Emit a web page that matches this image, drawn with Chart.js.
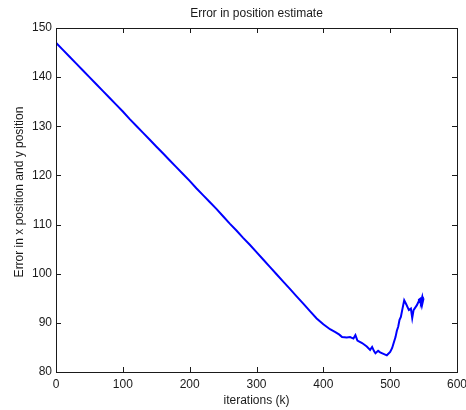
<!DOCTYPE html>
<html>
<head>
<meta charset="utf-8">
<script src="https://cdn.jsdelivr.net/npm/chart.js@4"></script>
<style>
  html, body { margin: 0; padding: 0; background: #fff; }
  #wrap { width: 466px; height: 410px; }
</style>
</head>
<body>
<div id="wrap"><canvas id="c" width="466" height="410"></canvas></div>
<script>
// Iteration index k
const iterations = [
  0, 10, 20, 30, 40, 50, 60, 70, 80, 90,
  100, 110, 120, 130, 140, 150, 160, 170, 180, 190,
  200, 210, 220, 230, 240, 250, 260, 270, 280, 290,
  300, 310, 320, 330, 340, 350, 360, 370, 380, 390,
  400, 405, 410, 418, 424, 428, 435, 440, 445, 448,
  451, 458, 465, 470, 473, 476, 478, 482, 485, 490,
  495, 500, 503, 505, 508, 510, 512, 514, 516, 518,
  521, 524, 526, 528, 531, 533, 535, 538, 540, 542,
  543, 545, 546, 548, 549, 550
];
// Combined x/y position error at each iteration
const errorValues = [
  147.0, 145.6, 144.2, 142.8, 141.4, 140.0, 138.6, 137.2, 135.8, 134.4,
  133.0, 131.5, 130.1, 128.7, 127.3, 125.9, 124.5, 123.1, 121.7, 120.3,
  118.9, 117.4, 116.0, 114.6, 113.2, 111.7, 110.2, 108.8, 107.3, 105.9,
  104.4, 102.9, 101.4, 99.9, 98.4, 96.9, 95.4, 93.9, 92.4, 90.9,
  89.7, 89.2, 88.7, 88.1, 87.6, 87.1, 87.0, 87.1, 86.8, 87.5,
  86.4, 85.9, 85.2, 84.5, 85.1, 84.2, 83.8, 84.3, 84.0, 83.7,
  83.4, 84.1, 84.9, 85.8, 87.1, 88.4, 89.2, 90.6, 91.2, 92.6,
  94.6, 93.8, 93.2, 92.6, 92.9, 91.0, 92.6, 93.2, 93.6, 94.2,
  94.7, 94.9, 94.3, 95.3, 94.4, 95.0
];
const xTicks = [0, 100, 200, 300, 400, 500, 600];
const yTicks = [80, 90, 100, 110, 120, 130, 140, 150];

const chartTitle = 'Error in position estimate';
const xTitle = 'iterations (k)';
const yTitle = 'Error in x position and y position';

const FONT = '"Liberation Sans", Arial, Helvetica, sans-serif';
const INK = '#1a1a1a';

// Box frame, inward ticks on all four sides, and the text labels around the axes
const frameAndLabels = {
  id: 'frameAndLabels',
  afterDatasetsDraw(chart) {
    const { ctx, chartArea: a, scales } = chart;
    const tl = 5;
    ctx.save();
    ctx.strokeStyle = INK;
    ctx.lineWidth = 1;
    ctx.beginPath();
    xTicks.forEach(v => {
      const px = Math.round(scales.x.getPixelForValue(v)) + 0.5;
      ctx.moveTo(px, a.bottom); ctx.lineTo(px, a.bottom - tl);
      ctx.moveTo(px, a.top); ctx.lineTo(px, a.top + tl);
    });
    yTicks.forEach(v => {
      const py = Math.round(scales.y.getPixelForValue(v)) + 0.5;
      ctx.moveTo(a.left, py); ctx.lineTo(a.left + tl, py);
      ctx.moveTo(a.right, py); ctx.lineTo(a.right - tl, py);
    });
    ctx.stroke();
    ctx.strokeRect(Math.round(a.left) + 0.5, Math.round(a.top) + 0.5,
                   Math.round(a.right - a.left), Math.round(a.bottom - a.top));

    ctx.fillStyle = INK;
    ctx.font = '12px ' + FONT;
    ctx.textAlign = 'center';
    ctx.textBaseline = 'middle';
    const cx = (a.left + a.right) / 2;
    ctx.fillText(chartTitle, cx, 14);
    ctx.fillText(xTitle, cx, 401);
    ctx.translate(20, 192);
    ctx.rotate(-Math.PI / 2);
    ctx.fillText(yTitle, 0, 0);
    ctx.restore();
  }
};

new Chart(document.getElementById('c'), {
  type: 'line',
  data: {
    datasets: [{
      data: iterations.map((k, i) => ({ x: k, y: errorValues[i] })),
      borderColor: '#0000ff',
      borderWidth: 2,
      pointRadius: 0,
      tension: 0,
      fill: false
    }]
  },
  options: {
    responsive: false,
    animation: false,
    layout: { padding: { top: 28, right: 9, left: 0, bottom: 0 } },
    plugins: { legend: { display: false }, tooltip: { enabled: false } },
    scales: {
      x: {
        type: 'linear',
        min: 0, max: 600,
        afterBuildTicks(scale) { scale.ticks = xTicks.map(v => ({ value: v })); },
        afterFit(scale) {
          scale.height = 38;
          scale.paddingLeft = 0;
          scale.paddingRight = 0;
        },
        grid: { display: false, drawTicks: false },
        border: { display: false },
        ticks: { padding: 5, color: INK, font: { family: FONT, size: 12 }, maxRotation: 0 }
      },
      y: {
        type: 'linear',
        min: 80, max: 150,
        afterBuildTicks(scale) { scale.ticks = yTicks.map(v => ({ value: v })); },
        afterFit(scale) {
          scale.width = 56;
          scale.paddingTop = 0;
          scale.paddingBottom = 0;
        },
        grid: { display: false, drawTicks: false },
        border: { display: false },
        ticks: { padding: 4, color: INK, font: { family: FONT, size: 12 } }
      }
    }
  },
  plugins: [frameAndLabels]
});
</script>
</body>
</html>
